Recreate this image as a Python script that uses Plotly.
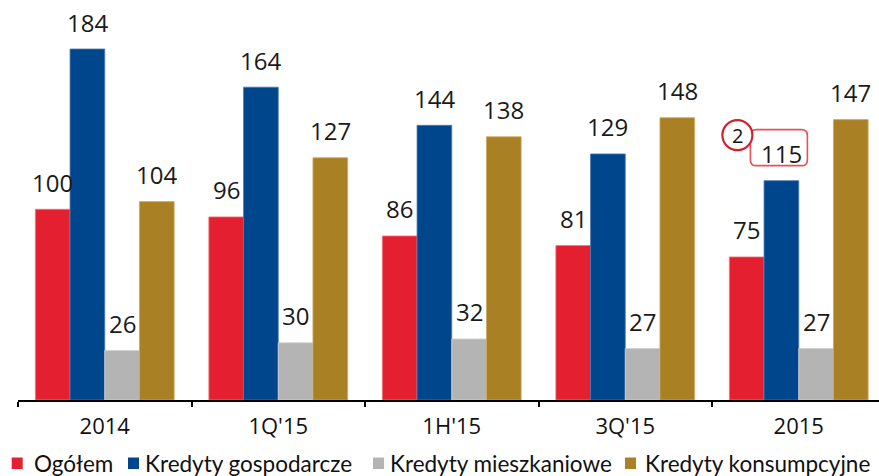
import plotly.graph_objects as go

# ---- data -------------------------------------------------------------
periods = ["2014", "1Q'15", "1H'15", "3Q'15", "2015"]
series_names = ["Ogółem", "Kredyty gospodarcze", "Kredyty mieszkaniowe", "Kredyty konsumpcyjne"]
ogolem = [100, 96, 86, 81, 75]
gospodarcze = [184, 164, 144, 129, 115]
mieszkaniowe = [26, 30, 32, 27, 27]
konsumpcyjne = [104, 127, 138, 148, 147]

series_values = [ogolem, gospodarcze, mieszkaniowe, konsumpcyjne]
colors = ["#E42030", "#00468C", "#B4B4B4", "#AA8024"]
edge_colors = ["#F07880", "#4A78B0", "#D0D0D0", "#CCAA60"]

# ---- geometry of the canvas ------------------------------------------
W, H = 879, 476
M_L, M_R, M_T, M_B = 18, 0, 0, 76
PLOT_W = W - M_L - M_R
PLOT_H = H - M_T - M_B
CAT_PX = 173.5                      # pixel width of one category slot
Y_MAX = 209.7                       # value range shown on the hidden y axis

def px_to_paper_x(px):
    return (px - M_L) / PLOT_W

def px_to_paper_y(py):
    return (H - M_B - py) / PLOT_H

fig = go.Figure()

for name, vals, col, edge in zip(series_names, series_values, colors, edge_colors):
    fig.add_trace(go.Bar(
        x=periods, y=vals, name=name,
        marker=dict(color=col, line=dict(color=edge, width=0.8)),
        showlegend=False,
    ))

# value labels above each bar
n_series = len(series_values)
bar_w = 0.8 / n_series
annotations = []
for s, vals in enumerate(series_values):
    offset = -0.4 + bar_w * (s + 0.5)
    for i, v in enumerate(vals):
        annotations.append(dict(
            x=i + offset, y=v, xref="x", yref="y",
            text=str(v), showarrow=False,
            yanchor="middle", xanchor="center", yshift=27,
            font=dict(family="Open Sans", size=24, color="#1a1a1a"),
        ))

# callout marker "2" attached to the last business-loan bar
mark_x = len(periods) - 1 + (-0.4 + bar_w * 1.5)
mark_y = gospodarcze[-1]

def rounded_rect(x0, x1, y0, y1, r):
    return (f"M{x0 + r},{y0} L{x1 - r},{y0} Q{x1},{y0} {x1},{y0 + r} "
            f"L{x1},{y1 - r} Q{x1},{y1} {x1 - r},{y1} L{x0 + r},{y1} "
            f"Q{x0},{y1} {x0},{y1 - r} L{x0},{y0 + r} Q{x0},{y0} {x0 + r},{y0} Z")

shapes = [
    dict(type="path", xref="x", yref="y", xsizemode="pixel", ysizemode="pixel",
         xanchor=mark_x, yanchor=mark_y,
         path=rounded_rect(-31, 26, 15, 51, 6),
         line=dict(color="#E4505C", width=1.6), fillcolor="rgba(0,0,0,0)"),
    dict(type="circle", xref="x", yref="y", xsizemode="pixel", ysizemode="pixel",
         xanchor=mark_x, yanchor=mark_y,
         x0=-59, x1=-29, y0=30.5, y1=60.5,
         line=dict(color="#D0202E", width=2.2), fillcolor="white"),
]
annotations.append(dict(
    x=mark_x, y=mark_y, xref="x", yref="y", text="2", showarrow=False,
    xshift=-44, yshift=45.5, xanchor="center", yanchor="middle",
    font=dict(family="Open Sans", size=20, color="#111111"),
))

# legend row along the bottom
legend_items = [(11.7, 32), (128, 143), (373, 388), (625, 643)]
for (sq_x, tx_x), name, col in zip(legend_items, series_names, colors):
    shapes.append(dict(
        type="rect", xref="paper", yref="paper",
        x0=px_to_paper_x(sq_x), x1=px_to_paper_x(sq_x + 11),
        y0=px_to_paper_y(469), y1=px_to_paper_y(457.5),
        line=dict(width=0), fillcolor=col,
    ))
    annotations.append(dict(
        x=px_to_paper_x(tx_x), y=px_to_paper_y(463), xref="paper", yref="paper",
        text=name, showarrow=False, xanchor="left", yanchor="middle",
        font=dict(family="Lato", size=22.5, color="#111111"),
    ))

fig.update_layout(
    width=W, height=H,
    margin=dict(l=M_L, r=M_R, t=M_T, b=M_B, pad=0),
    paper_bgcolor="white", plot_bgcolor="white",
    barmode="group", bargap=0.2, bargroupgap=0,
    showlegend=False,
    xaxis=dict(
        type="category",
        range=[-0.5, -0.5 + PLOT_W / CAT_PX],
        showline=True, linecolor="black", linewidth=2,
        ticks="outside", tickson="boundaries", ticklen=5, tickwidth=2, tickcolor="black",
        ticklabelstandoff=6,
        tickfont=dict(family="Open Sans", size=22, color="#111111"),
        showgrid=False, zeroline=False,
    ),
    yaxis=dict(range=[0, Y_MAX], visible=False, showgrid=False, zeroline=False),
    shapes=shapes,
    annotations=annotations,
)

fig.write_html("out.html")
